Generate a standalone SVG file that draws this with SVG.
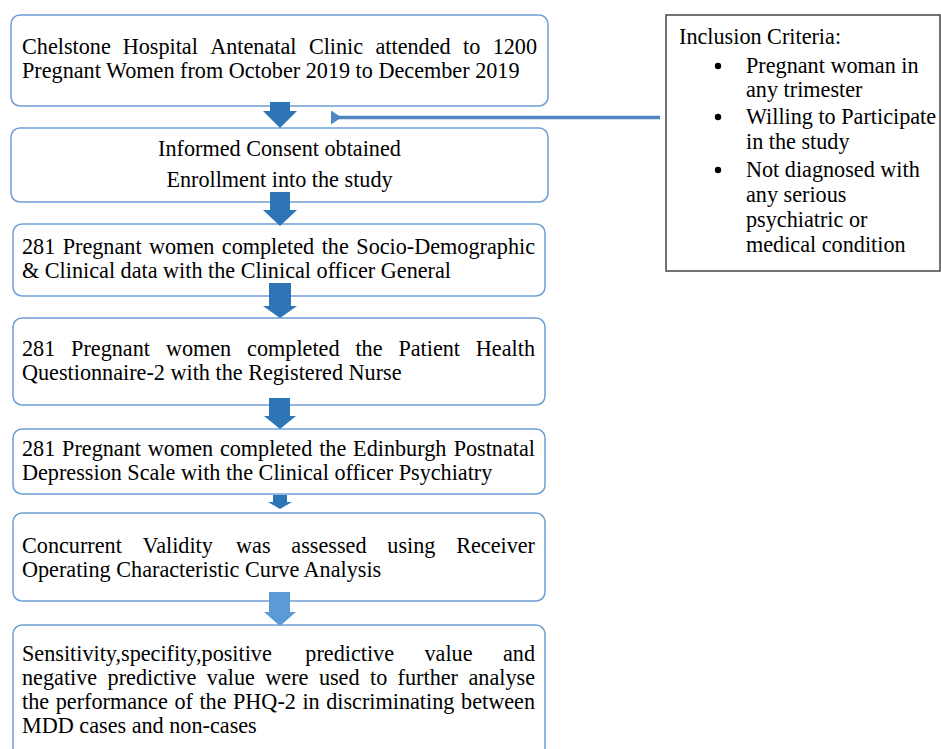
<svg xmlns="http://www.w3.org/2000/svg" width="941" height="749" viewBox="0 0 941 749">
<defs>
<style>
.box{fill:#ffffff;stroke:#6d9fd6;stroke-width:1.5}
.crit{fill:#ffffff;stroke:#444444;stroke-width:1.5}
text{font-family:"Liberation Serif","Times New Roman",serif;font-size:22.2px;fill:#000000}
.c{text-anchor:middle}
.ar{fill:#2e75b6}
.ar2{fill:#5b9bd5}
</style>
<marker id="hd" markerWidth="4" markerHeight="4" refX="1" refY="2" orient="auto" markerUnits="strokeWidth">
<path d="M3,0 L0,2 L3,4 Z" fill="#4f86c3"/>
</marker>
</defs>
<rect width="941" height="749" fill="#ffffff"/>

<g id="n1">
<rect class="box" x="11" y="15" width="537" height="91" rx="9"/>
<text y="54"><tspan x="22">Chelstone</tspan><tspan x="122.7">Hospital</tspan><tspan x="210.2">Antenatal</tspan><tspan x="308.9">Clinic</tspan><tspan x="375.5">attended</tspan><tspan x="463">to</tspan><tspan x="537" text-anchor="end">1200</tspan></text>
<text x="22" y="78">Pregnant Women from October 2019 to December 2019</text>
</g>

<g id="n2">
<rect class="box" x="11" y="128" width="537" height="74" rx="9"/>
<text class="c" x="279.5" y="156">Informed Consent obtained</text>
<text class="c" x="279.5" y="187">Enrollment into the study</text>
</g>

<g id="n3">
<rect class="box" x="13" y="224" width="532" height="72" rx="9"/>
<text y="254"><tspan x="22">281</tspan><tspan x="62.7">Pregnant</tspan><tspan x="149">women</tspan><tspan x="221.8">completed</tspan><tspan x="321.7">the</tspan><tspan x="535" text-anchor="end">Socio-Demographic</tspan></text>
<text x="22" y="278">&amp; Clinical data with the Clinical officer General</text>
</g>

<g id="n4">
<rect class="box" x="13" y="318" width="532" height="87" rx="9"/>
<text y="356"><tspan x="22">281</tspan><tspan x="71.1">Pregnant</tspan><tspan x="165.9">women</tspan><tspan x="247.1">completed</tspan><tspan x="355.4">the</tspan><tspan x="398.4">Patient</tspan><tspan x="535" text-anchor="end">Health</tspan></text>
<text x="22" y="380">Questionnaire-2 with the Registered Nurse</text>
</g>

<g id="n5">
<rect class="box" x="13" y="429" width="532" height="65" rx="9"/>
<text y="456"><tspan x="22">281</tspan><tspan x="62.1">Pregnant</tspan><tspan x="147.8">women</tspan><tspan x="219.9">completed</tspan><tspan x="319.2">the</tspan><tspan x="353.1">Edinburgh</tspan><tspan x="535" text-anchor="end">Postnatal</tspan></text>
<text x="22" y="480">Depression Scale with the Clinical officer Psychiatry</text>
</g>

<g id="n6">
<rect class="box" x="13" y="513" width="532" height="88" rx="9"/>
<text y="553"><tspan x="22">Concurrent</tspan><tspan x="142.6">Validity</tspan><tspan x="236.1">was</tspan><tspan x="291.3">assessed</tspan><tspan x="387.3">using</tspan><tspan x="535" text-anchor="end">Receiver</tspan></text>
<text x="22" y="577">Operating Characteristic Curve Analysis</text>
</g>

<g id="n7">
<rect class="box" x="13" y="625" width="532" height="140" rx="9"/>
<text y="661"><tspan x="22">Sensitivity,specifity,positive</tspan><tspan x="305.3">predictive</tspan><tspan x="424.5">value</tspan><tspan x="535" text-anchor="end">and</tspan></text>
<text y="685"><tspan x="22">negative</tspan><tspan x="107.6">predictive</tspan><tspan x="206.8">value</tspan><tspan x="265.3">were</tspan><tspan x="318.9">used</tspan><tspan x="370">to</tspan><tspan x="397.6">further</tspan><tspan x="535" text-anchor="end">analyse</tspan></text>
<text y="709"><tspan x="22">the</tspan><tspan x="55.7">performance</tspan><tspan x="174.4">of</tspan><tspan x="199.4">the</tspan><tspan x="233">PHQ-2</tspan><tspan x="302.4">in</tspan><tspan x="326.2">discriminating</tspan><tspan x="535" text-anchor="end">between</tspan></text>
<text x="22" y="733">MDD cases and non-cases</text>
</g>

<g id="criteria">
<rect class="crit" x="666" y="15" width="274" height="256"/>
<text x="679" y="44">Inclusion Criteria:</text>
<circle cx="718" cy="66" r="3.2" fill="#000"/>
<circle cx="718" cy="117" r="3.2" fill="#000"/>
<circle cx="718" cy="170" r="3.2" fill="#000"/>
<text x="746" y="73">Pregnant woman in</text>
<text x="746" y="97">any trimester</text>
<text x="746" y="124">Willing to Participate</text>
<text x="746" y="149">in the study</text>
<text x="746" y="177">Not diagnosed with</text>
<text x="746" y="202">any serious</text>
<text x="746" y="227">psychiatric or</text>
<text x="746" y="252">medical condition</text>
</g>

<g id="connectors">
<polygon class="ar" points="270,102 290,102 290,111 297,111 280,128 263,111 270,111"/>
<polygon class="ar" points="270,192 290,192 290,210 297,210 280,226 263,210 270,210"/>
<polygon class="ar" points="269,283 291,283 291,306 297,306 280,318 263,306 269,306"/>
<polygon class="ar" points="269,398 290,398 290,416 296,416 280,429 264,416 269,416"/>
<polygon class="ar" points="273,495 287,495 287,502 292,502 280,509 268,502 273,502"/>
<polygon class="ar2" points="269,592 290,592 290,612 296,612 280,626 264,612 269,612"/>
<line x1="660" y1="117.5" x2="338" y2="117.5" stroke="#4f86c3" stroke-width="3.5" marker-end="url(#hd)"/>
</g>
</svg>
